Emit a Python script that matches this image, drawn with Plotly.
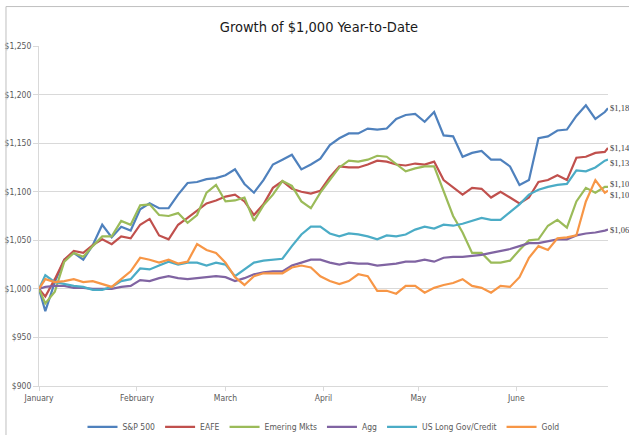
import plotly.graph_objects as go

# ---------------- data ----------------
dates = [
    "2019-01-01", "2019-01-03", "2019-01-06", "2019-01-09", "2019-01-12", "2019-01-15",
    "2019-01-18", "2019-01-21", "2019-01-24", "2019-01-27", "2019-01-30", "2019-02-02",
    "2019-02-05", "2019-02-08", "2019-02-11", "2019-02-14",
    "2019-02-17", "2019-02-20", "2019-02-23", "2019-02-26", "2019-03-01", "2019-03-04",
    "2019-03-07", "2019-03-10", "2019-03-13", "2019-03-16", "2019-03-19", "2019-03-22",
    "2019-03-25", "2019-03-28", "2019-03-31",
    "2019-04-03", "2019-04-06", "2019-04-09", "2019-04-12", "2019-04-15", "2019-04-18",
    "2019-04-21", "2019-04-24", "2019-04-27", "2019-04-30", "2019-05-03", "2019-05-06",
    "2019-05-09", "2019-05-12",
    "2019-05-15", "2019-05-18", "2019-05-21", "2019-05-24", "2019-05-27", "2019-05-30",
    "2019-06-02", "2019-06-05", "2019-06-08", "2019-06-11", "2019-06-14", "2019-06-17",
    "2019-06-20", "2019-06-23", "2019-06-26", "2019-06-29", "2019-06-30",
]

sp500 = [
    1000, 977, 1007, 1030, 1037, 1030, 1045, 1066, 1053, 1064, 1060, 1082, 1088, 1083, 1083, 1097,
    1109, 1110, 1113, 1114, 1117, 1123, 1108, 1099, 1112, 1128, 1133, 1138, 1123, 1128, 1134,
    1148, 1155, 1160, 1160, 1165, 1164, 1165, 1175, 1179, 1180, 1172, 1182, 1158, 1157,
    1136, 1140, 1142, 1133, 1133, 1126, 1107, 1112, 1155, 1157, 1163, 1164, 1178, 1189, 1175, 1182, 1186,
]
eafe = [
    1000, 992, 1010, 1030, 1039, 1037, 1045, 1051, 1046, 1054, 1052, 1066, 1072, 1055, 1051, 1066,
    1073, 1081, 1088, 1091, 1095, 1097, 1090, 1076, 1087, 1104, 1111, 1103, 1100, 1098, 1101,
    1115, 1126, 1125, 1125, 1128, 1132, 1131, 1128, 1127, 1129, 1128, 1131, 1112, 1104,
    1097, 1104, 1103, 1094, 1100, 1094, 1088, 1094, 1110, 1112, 1117, 1112, 1135, 1136, 1140, 1141, 1145,
]
emerging = [
    1000, 985, 997, 1028, 1037, 1033, 1044, 1054, 1054, 1070, 1066, 1086, 1087, 1076, 1075, 1078,
    1068, 1076, 1099, 1107, 1090, 1091, 1094, 1070, 1086, 1097, 1111, 1106, 1090, 1083, 1099,
    1112, 1125, 1132, 1131, 1133, 1137, 1136, 1128, 1121, 1124, 1126, 1126, 1100, 1075,
    1058, 1037, 1037, 1027, 1027, 1029, 1040, 1050, 1051, 1065, 1071, 1063, 1090, 1104, 1099, 1105, 1105,
]
agg = [
    1000, 1002, 1003, 1003, 1001, 1001, 1000, 1000, 1000, 1002, 1003, 1009, 1008, 1011, 1013, 1011,
    1010, 1011, 1012, 1013, 1012, 1008, 1011, 1015, 1017, 1018, 1018, 1024, 1027, 1030, 1030,
    1027, 1025, 1027, 1026, 1026, 1024, 1025, 1026, 1028, 1028, 1030, 1028, 1032, 1033,
    1033, 1034, 1035, 1037, 1039, 1041, 1044, 1047, 1047, 1049, 1051, 1051, 1055, 1057, 1058, 1060, 1061,
]
us_long = [
    1000, 1014, 1007, 1005, 1003, 1002, 999, 999, 1002, 1008, 1010, 1021, 1020, 1024, 1028, 1025,
    1027, 1027, 1024, 1027, 1025, 1013, 1020, 1027, 1029, 1030, 1031, 1044, 1056, 1064, 1064,
    1057, 1054, 1057, 1056, 1054, 1051, 1055, 1054, 1056, 1061, 1064, 1062, 1066, 1065,
    1067, 1070, 1073, 1071, 1071, 1079, 1087, 1097, 1102, 1105, 1107, 1108, 1122, 1121, 1125, 1132, 1133,
]
gold = [
    1000, 1010, 1007, 1008, 1010, 1007, 1008, 1005, 1002, 1010, 1018, 1032, 1030, 1027, 1030, 1026,
    1028, 1046, 1040, 1037, 1027, 1012, 1004, 1013, 1016, 1016, 1016, 1022, 1024, 1022, 1013,
    1008, 1005, 1008, 1015, 1013, 998, 998, 995, 1003, 1003, 996, 1001, 1004, 1006,
    1010, 1003, 1001, 996, 1003, 1002, 1012, 1032, 1044, 1040, 1052, 1053, 1055, 1090, 1112, 1099, 1101,
]

series_names = ["S&P 500", "EAFE", "Emering Mkts", "Agg", "US Long Gov/Credit", "Gold"]
series_values = [sp500, eafe, emerging, agg, us_long, gold]
end_labels = ["$1,18", "$1,14", "$1,13", "$1,10", "$1,10", "$1,06"]
end_label_series = [sp500, eafe, us_long, emerging, gold, agg]
end_label_shift = [0, 0, -3, 3, -4, 0]

month_ticks = ["2019-01-01", "2019-02-01", "2019-03-01", "2019-04-01", "2019-05-01", "2019-06-01"]
month_labels = ["January", "February", "March", "April", "May", "June"]

y_ticks = [900, 950, 1000, 1050, 1100, 1150, 1200, 1250]
y_labels = ["$900", "$950", "$1,000", "$1,050", "$1,100", "$1,150", "$1,200", "$1,250"]

# ---------------- style ----------------
colors = ["#4F81BD", "#C0504D", "#9BBB59", "#8064A2", "#4BACC6", "#F79646"]
narrow = "Liberation Sans Narrow, Arial Narrow, DejaVu Sans Condensed, Roboto, sans-serif"
grid = "#D9D9D9"
txt = "#595959"

fig = go.Figure()
for name, vals, col in zip(series_names, series_values, colors):
    fig.add_trace(go.Scatter(x=dates, y=vals, mode="lines", name=name,
                             line=dict(color=col, width=2.2)))

annotations = []
for lab, vals, sh in zip(end_labels, end_label_series, end_label_shift):
    annotations.append(dict(x=dates[-1], y=vals[-1], xref="x", yref="y", text=lab,
                            showarrow=False, xanchor="left", yanchor="middle", xshift=0, yshift=sh,
                            font=dict(family="Liberation Serif, DejaVu Serif, serif",
                                      size=8.5, color="#404040")))

fig.update_layout(
    width=629, height=435,
    margin=dict(l=39, r=21, t=46, b=49, autoexpand=False),
    paper_bgcolor="white", plot_bgcolor="white",
    title=dict(text="Growth of $1,000 Year-to-Date", x=0.507, xref="container",
               xanchor="center", y=0.937, yref="container", yanchor="middle",
               font=dict(family=narrow, size=14.5, color="#1a1a1a")),
    showlegend=True,
    legend=dict(orientation="h", x=0.5, xanchor="center", xref="paper",
                y=-0.12, yanchor="middle", yref="paper",
                font=dict(family=narrow, size=8.5, color=txt),
                itemwidth=30, tracegroupgap=0, bgcolor="rgba(0,0,0,0)"),
    annotations=annotations,
    shapes=[
        dict(type="line", xref="paper", yref="paper", x0=-0.058, x1=-0.058, y0=-0.2, y1=1.116,
             line=dict(color="#BFBFBF", width=1)),
        dict(type="line", xref="paper", yref="paper", x0=-0.058, x1=1.1, y0=1.116, y1=1.116,
             line=dict(color="#BFBFBF", width=1)),
    ],
)
fig.update_xaxes(type="date", range=["2019-01-01", "2019-06-30"],
                 tickmode="array", tickvals=month_ticks, ticktext=month_labels, tickangle=0,
                 showgrid=False, showline=True, linecolor=grid, linewidth=1,
                 ticks="outside", ticklen=4, tickcolor=grid,
                 tickfont=dict(family=narrow, size=8.5, color=txt), zeroline=False)
fig.update_yaxes(range=[900, 1250], tickmode="array", tickvals=y_ticks, ticktext=y_labels,
                 showgrid=True, gridcolor=grid, gridwidth=1, showline=True, linecolor=grid,
                 ticks="outside", ticklen=5, tickcolor=grid, zeroline=False,
                 tickfont=dict(family=narrow, size=8.5, color=txt))

fig.write_html("out.html", config={"displayModeBar": False},
               post_script="document.body.style.margin='0';document.body.style.overflow='hidden';")
